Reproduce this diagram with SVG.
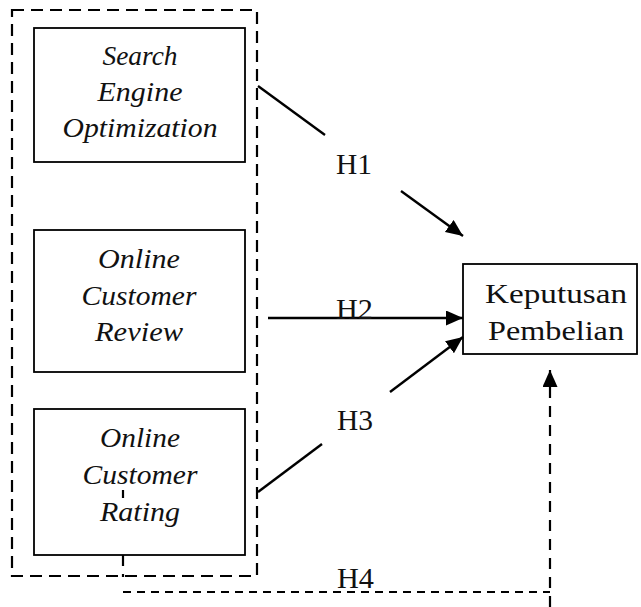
<svg xmlns="http://www.w3.org/2000/svg" width="641" height="607" viewBox="0 0 641 607">
  <defs>
    <marker id="arrow" markerUnits="userSpaceOnUse" markerWidth="17" markerHeight="15" refX="17" refY="7.5" orient="auto">
      <path d="M0,0 L17,7.5 L0,15 z" fill="#000"/>
    </marker>
    <style>
      .box { fill: #fff; stroke: #000; stroke-width: 1.8; }
      .group { fill: none; stroke: #000; stroke-width: 2.2; stroke-dasharray: 12 7; }
      .var { font-family: "Liberation Serif", "Times New Roman", serif; font-style: italic; font-size: 27px; fill: #111; text-anchor: middle; }
      .dep { font-family: "Liberation Serif", "Times New Roman", serif; font-size: 28px; fill: #111; text-anchor: middle; }
      .hyp { font-family: "Liberation Serif", "Times New Roman", serif; font-size: 29px; fill: #111; }
      .link { fill: none; stroke: #000; stroke-width: 2.4; }
      .dash { fill: none; stroke: #000; stroke-width: 2.2; stroke-dasharray: 8 6; }
      .dashv { fill: none; stroke: #000; stroke-width: 2.2; stroke-dasharray: 11 8; }
    </style>
  </defs>

  <!-- dashed frame around the independent variables -->
  <rect id="frame" class="group" x="12" y="10" width="245" height="566"/>

  <g id="seo">
    <rect class="box" x="34" y="28" width="211" height="134"/>
    <text class="var" x="140" y="65" textLength="75" lengthAdjust="spacingAndGlyphs">Search</text>
    <text class="var" x="140" y="101" textLength="85" lengthAdjust="spacingAndGlyphs">Engine</text>
    <text class="var" x="140" y="137" textLength="155" lengthAdjust="spacingAndGlyphs">Optimization</text>
  </g>

  <g id="review">
    <rect class="box" x="34" y="230" width="211" height="142"/>
    <text class="var" x="139" y="268" textLength="82" lengthAdjust="spacingAndGlyphs">Online</text>
    <text class="var" x="139" y="305" textLength="115" lengthAdjust="spacingAndGlyphs">Customer</text>
    <text class="var" x="139" y="341" textLength="88" lengthAdjust="spacingAndGlyphs">Review</text>
  </g>

  <g id="rating">
    <rect class="box" x="34" y="409" width="211" height="146"/>
    <text class="var" x="140" y="447" textLength="80" lengthAdjust="spacingAndGlyphs">Online</text>
    <text class="var" x="140" y="484" textLength="115" lengthAdjust="spacingAndGlyphs">Customer</text>
    <text class="var" x="140" y="521" textLength="80" lengthAdjust="spacingAndGlyphs">Rating</text>
  </g>

  <g id="keputusan">
    <rect class="box" x="463" y="264" width="174" height="90"/>
    <text class="dep" x="556" y="303" textLength="142" lengthAdjust="spacingAndGlyphs">Keputusan</text>
    <text class="dep" x="556" y="340" textLength="136" lengthAdjust="spacingAndGlyphs">Pembelian</text>
  </g>

  <g id="connectors">
    <!-- H1 -->
    <line class="link" x1="258" y1="86" x2="325" y2="135"/>
    <line class="link" x1="401" y1="191" x2="463" y2="236" marker-end="url(#arrow)"/>
    <!-- H2 -->
    <line class="link" x1="268" y1="318" x2="463" y2="318" marker-end="url(#arrow)"/>
    <!-- H3 -->
    <line class="link" x1="258" y1="492" x2="322" y2="444"/>
    <line class="link" x1="390" y1="392" x2="463" y2="337" marker-end="url(#arrow)"/>
    <!-- H4 (simultaneous) -->
    <line class="dash" x1="123" y1="490" x2="123" y2="500"/>
    <line class="dashv" x1="123" y1="555" x2="123" y2="577"/>
    <line class="dash" x1="123" y1="592" x2="550" y2="592"/>
    <line class="dashv" x1="550" y1="607" x2="550" y2="370" marker-end="url(#arrow)"/>
  </g>

  <g id="labels">
    <text class="hyp" x="336" y="174" textLength="36" lengthAdjust="spacingAndGlyphs">H1</text>
    <text class="hyp" x="336" y="319" textLength="37" lengthAdjust="spacingAndGlyphs">H2</text>
    <text class="hyp" x="337" y="430" textLength="36" lengthAdjust="spacingAndGlyphs">H3</text>
    <text class="hyp" x="337" y="588" textLength="37" lengthAdjust="spacingAndGlyphs">H4</text>
  </g>
</svg>
